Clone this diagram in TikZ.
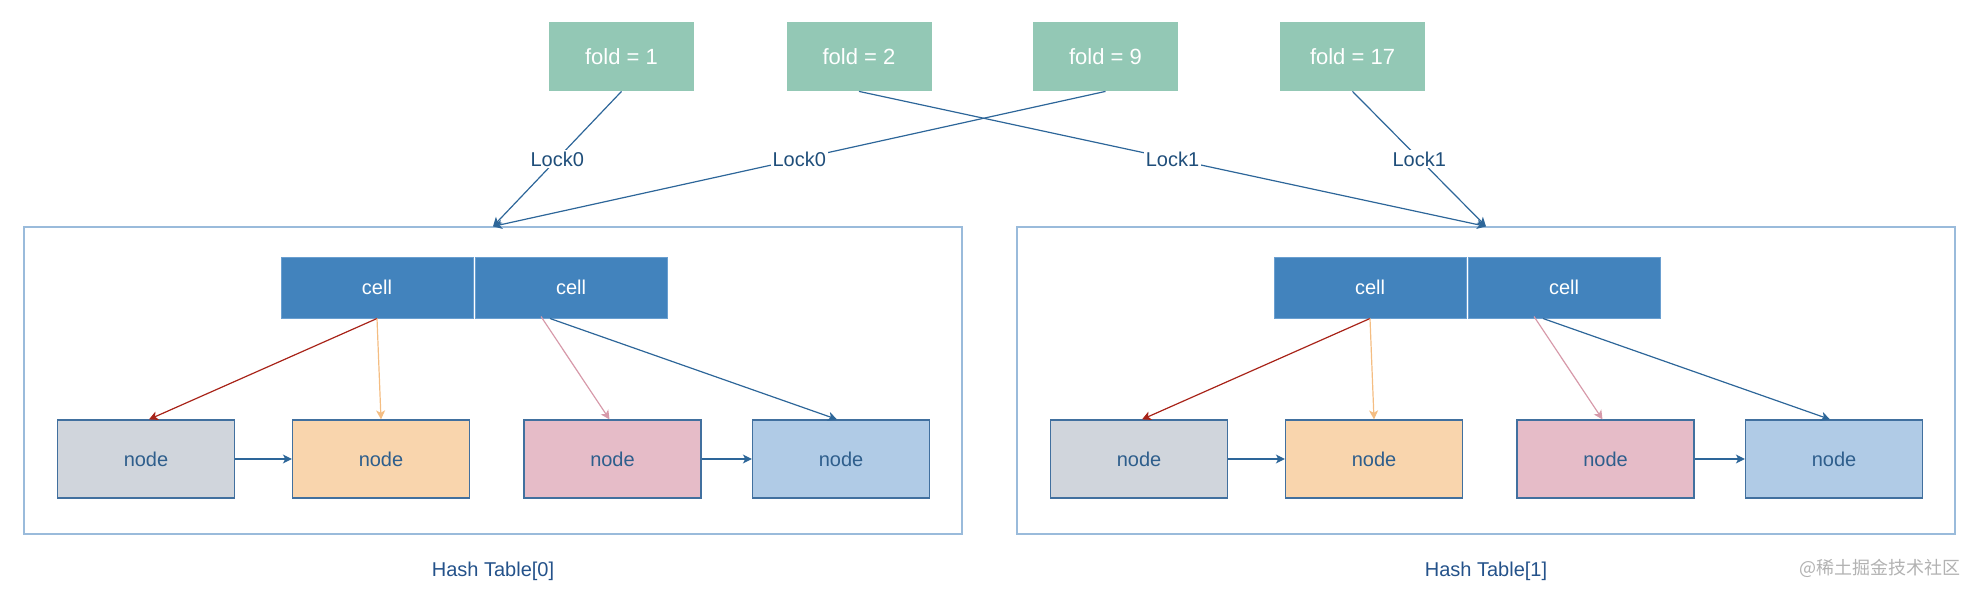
\documentclass[tikz,border=0pt]{standalone}
\usepackage{fontspec}
\setmainfont{Liberation Sans}
\newfontfamily\cjkfont{Noto Sans CJK SC}
\usetikzlibrary{arrows.meta}
\definecolor{foldfill}{HTML}{93C8B5}
\definecolor{cellfill}{HTML}{4283BD}
\definecolor{celldraw}{HTML}{6A9FD0}
\definecolor{ngray}{HTML}{D0D5DC}
\definecolor{norange}{HTML}{F9D5AD}
\definecolor{npink}{HTML}{E6BCC8}
\definecolor{nblue}{HTML}{B0CBE6}
\definecolor{ndraw}{HTML}{41709F}
\definecolor{ntext}{HTML}{2E5E8C}
\definecolor{connblue}{HTML}{2D6699}
\definecolor{connred}{HTML}{A82318}
\definecolor{connorange}{HTML}{F4BD82}
\definecolor{connpink}{HTML}{D79AAA}
\definecolor{locktext}{HTML}{1F4E7A}
\definecolor{paneldraw}{HTML}{9ABBDB}
\definecolor{hashtext}{HTML}{24528A}
\begin{document}
\begin{tikzpicture}[x=0.5pt,y=-0.5pt,
  foldbox/.style={rectangle, fill=foldfill, draw=none, text=white,
    minimum width=72.5pt, minimum height=34.5pt, inner sep=0pt,
    font=\fontsize{11}{13}\selectfont},
  cellbox/.style={rectangle, fill=cellfill, draw=celldraw, line width=0.5pt, text=white,
    minimum width=96pt, minimum height=30.5pt, inner sep=0pt,
    font=\fontsize{10}{12}\selectfont},
  nodebox/.style={rectangle, draw=ndraw, line width=0.6pt, text=ntext,
    minimum width=88.5pt, minimum height=39pt, inner sep=0pt,
    font=\fontsize{10}{12}\selectfont},
  panelbox/.style={rectangle, draw=paneldraw, line width=0.6pt,
    minimum width=469pt, minimum height=153.5pt, inner sep=0pt},
  tip/.style={-{Stealth[length=4.5pt,width=4.5pt,inset=1.2pt]}},
  conn/.style={tip, draw=connblue, line width=0.6pt},
  lbl/.style={fill=white, inner sep=1pt, text=locktext,
    font=\fontsize{10}{12}\selectfont},
  hashlbl/.style={text=hashtext, font=\fontsize{10}{12}\selectfont}
]
\useasboundingbox (0,0) rectangle (1978,594);

\node[foldbox] (f1) at (621.5,56.5) {fold = 1};
\node[foldbox] (f2) at (859,56.5) {fold = 2};
\node[foldbox] (f9) at (1105.5,56.5) {fold = 9};
\node[foldbox] (f17) at (1352.5,56.5) {fold = 17};

\foreach \p/\dx in {0/0,1/993} {
  \node[panelbox] (P\p) at (493+\dx,380.5) {};
  \node[cellbox] (ca\p) at (377+\dx,287.5) {cell};
  \node[cellbox] (cb\p) at (571+\dx,287.5) {cell};
  \node[nodebox, fill=ngray] (na\p) at (146+\dx,459) {node};
  \node[nodebox, fill=norange] (nb\p) at (381+\dx,459) {node};
  \node[nodebox, fill=npink] (nc\p) at (612.5+\dx,459) {node};
  \node[nodebox, fill=nblue] (nd\p) at (841+\dx,459) {node};
  \node[hashlbl] (H\p) at (493+\dx,571) {Hash Table[\p]};
  \draw[tip, draw=connred, line width=0.6pt] (ca\p.south) -- ([xshift=1.5pt]na\p.north);
  \draw[tip, draw=connorange, line width=0.6pt] (ca\p.south) -- (nb\p.north);
  \draw[tip, draw=connpink, line width=0.6pt] ([xshift=-15pt,yshift=1pt]cb\p.south) -- ([xshift=-1.5pt]nc\p.north);
  \draw[conn] ([xshift=-10.5pt]cb\p.south) -- ([xshift=-2pt]nd\p.north);
  \draw[conn] (na\p.east) -- (nb\p.west);
  \draw[conn] (nc\p.east) -- (nd\p.west);
}

\draw[conn] (f1.south) -- node[lbl] (l1) {Lock0} (P0.north);
\draw[conn] (f9.south) -- node[lbl] (l2) {Lock0} (P0.north);
\draw[conn] (f2.south) -- node[lbl] (l3) {Lock1} (P1.north);
\draw[conn] (f17.south) -- node[lbl] (l4) {Lock1} (P1.north);

\node[text=black!30, font=\cjkfont\fontsize{9}{11}\selectfont] (wm) at (1880,568) {@稀土掘金技术社区};
\end{tikzpicture}
\end{document}
